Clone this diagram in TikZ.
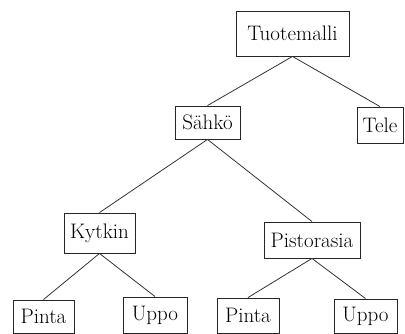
\documentclass[tikz,border=0pt]{standalone}
\usepackage{fontspec}
\begin{document}
\begin{tikzpicture}[x=1pt,y=-1pt,
  box/.style={draw=black!85,line width=0.9pt,rectangle,inner sep=0pt,font=\fontsize{21}{24}\selectfont},
  link/.style={draw=black!80,line width=0.8pt}]
\useasboundingbox (0,0) rectangle (405,334);
\node[box,minimum width=113pt,minimum height=45pt] (tuo) at (292.5,33.5) {Tuotemalli};
\node[box,minimum width=65pt,minimum height=33pt] (sah) at (207.5,122.5) {Sähkö};
\node[box,minimum width=46pt,minimum height=36pt] (tele) at (380,125) {Tele};
\node[box,minimum width=71pt,minimum height=40pt] (kyt) at (99.5,233) {Kytkin};
\node[box,minimum width=96pt,minimum height=36pt] (pis) at (312,240) {Pistorasia};
\node[box,minimum width=61pt,minimum height=33pt] (pin1) at (43.5,316.5) {Pinta};
\node[box,minimum width=64pt,minimum height=36pt] (upp1) at (155,315) {Uppo};
\node[box,minimum width=62pt,minimum height=35pt] (pin2) at (248,315.5) {Pinta};
\node[box,minimum width=63pt,minimum height=34pt] (upp2) at (365.5,316) {Uppo};
\draw[link] (tuo.south) -- (sah.north);
\draw[link] (tuo.south) -- (tele.north);
\draw[link] (sah.south) -- (kyt.north);
\draw[link] (sah.south) -- (pis.north);
\draw[link] (kyt.south) -- (pin1.north);
\draw[link] (kyt.south) -- (upp1.north);
\draw[link] (pis.south) -- (pin2.north);
\draw[link] (pis.south) -- (upp2.north);
\end{tikzpicture}
\end{document}
